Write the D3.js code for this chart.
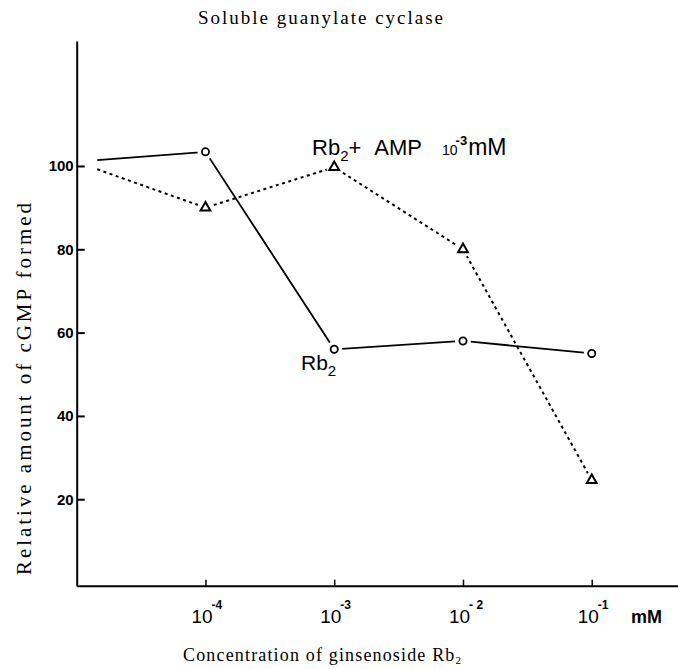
<!DOCTYPE html>
<html><head><meta charset="utf-8">
<script src="https://cdn.jsdelivr.net/npm/d3@7"></script>
<style>body{margin:0;background:#fff}</style>
</head><body>
<svg id="c" width="678" height="669"></svg>
<script>
// ---- data ----
const concLabels = ["control", "1e-4", "1e-3", "1e-2", "1e-1"];
const logConc = [-4.84, -4, -3, -2, -1];          // control plotted left of first dose
const rb2 = [101.4, 103.4, 56, 58, 55];
const rb2Amp = [99.2, 90, 99.7, 80, 24.6];
const yTicks = [20, 40, 60, 80, 100];
const xTickExp = [-4, -3, -2, -1];
const xTickLabels = ["-4", "-3", "- 2", "-1"];

const svg = d3.select("#c");
const x = d3.scaleLinear().domain([-5, -0.33]).range([76.7, 678]);
const y = d3.scaleLinear().domain([-0.75, 130]).range([585.7, 41]);

const serif = "'Liberation Serif','Times New Roman',serif";
const sans = "'Liberation Sans',Arial,sans-serif";
const narrow = "'Liberation Sans Narrow','Arial Narrow','Liberation Sans',sans-serif";

// title
svg.append("text").attr("x", 198).attr("y", 24)
  .attr("font-family", serif).attr("font-size", 19)
  .attr("textLength", 245).attr("lengthAdjust", "spacing")
  .text("Soluble guanylate cyclase");

// y axis
const gy = svg.append("g").attr("transform", `translate(${x(-5)},0)`)
  .call(d3.axisLeft(y).tickValues(yTicks).tickSize(-8).tickSizeOuter(0).tickPadding(3));
gy.select(".domain").attr("stroke-width", 2);
gy.selectAll(".tick line").attr("stroke-width", 2);
gy.selectAll(".tick text").attr("font-family", narrow).attr("font-weight", "bold")
  .attr("font-size", 15).attr("fill", "#000");

// x axis
const gx = svg.append("g").attr("transform", `translate(0,${y(-0.75)})`)
  .call(d3.axisBottom(x).tickValues(xTickExp).tickSize(-6).tickSizeOuter(0).tickFormat(""));
gx.select(".domain").attr("stroke-width", 2);
gx.selectAll(".tick line").attr("stroke-width", 1.5);

// x tick labels 10^n
xTickExp.forEach((e, i) => {
  const t = svg.append("text").attr("x", x(e) - 14).attr("y", 623)
    .attr("font-family", sans).attr("font-size", 19).attr("fill", "#000");
  t.append("tspan").text("10");
  t.append("tspan").attr("dx", -1).attr("dy", -14).attr("font-size", 12)
    .attr("font-weight", "bold").text(xTickLabels[i]);
});
svg.append("text").attr("x", 631).attr("y", 623).attr("font-family", sans)
  .attr("font-size", 18).attr("font-weight", "bold").text("mM");

// axis titles
const xt = svg.append("text").attr("x", 183).attr("y", 661)
  .attr("font-family", serif).attr("font-size", 18)
  .attr("textLength", 278).attr("lengthAdjust", "spacing");
xt.append("tspan").text("Concentration of ginsenoside Rb");
xt.append("tspan").attr("font-size", 11).attr("dy", 3).text("2");

svg.append("text").attr("transform", "translate(31,575) rotate(-90)")
  .attr("font-family", serif).attr("font-size", 21)
  .attr("textLength", 372).attr("lengthAdjust", "spacing")
  .text("Relative amount of cGMP formed");

// lines
const pts = arr => arr.map((v, i) => [x(logConc[i]), y(v)]);
const line = d3.line();
svg.append("path").attr("d", line(pts(rb2))).attr("fill", "none")
  .attr("stroke", "#000").attr("stroke-width", 1.8);
svg.append("path").attr("d", line(pts(rb2Amp))).attr("fill", "none")
  .attr("stroke", "#000").attr("stroke-width", 2).attr("stroke-dasharray", "3,3.5");

// markers (skip control point)
const idx = d3.range(1, concLabels.length);
svg.selectAll(".halo1").data(idx).join("circle")
  .attr("cx", i => x(logConc[i])).attr("cy", i => y(rb2[i])).attr("r", 8).attr("fill", "#fff");
svg.selectAll(".halo2").data(idx).join("circle")
  .attr("cx", i => x(logConc[i])).attr("cy", i => y(rb2Amp[i])).attr("r", 8).attr("fill", "#fff");
svg.selectAll(".c").data(idx).join("circle")
  .attr("cx", i => x(logConc[i])).attr("cy", i => y(rb2[i])).attr("r", 3.6)
  .attr("fill", "#fff").attr("stroke", "#000").attr("stroke-width", 1.8);
const tri = d3.symbol().type(d3.symbolTriangle).size(42);
svg.selectAll(".t").data(idx).join("path")
  .attr("transform", i => `translate(${x(logConc[i])},${y(rb2Amp[i])})`)
  .attr("d", tri).attr("fill", "#fff").attr("stroke", "#000").attr("stroke-width", 2);

// series labels
const l1 = svg.append("text").attr("x", 312).attr("y", 155).attr("font-family", sans)
  .attr("font-size", 22).attr("fill", "#000");
l1.append("tspan").text("Rb");
l1.append("tspan").attr("font-size", 15).attr("dy", 6).text("2");
l1.append("tspan").attr("dy", -6).text("+");
l1.append("tspan").attr("dx", 13).text("AMP");
l1.append("tspan").attr("dx", 20).attr("font-size", 14).text("10");
l1.append("tspan").attr("dx", -2).attr("dy", -10).attr("font-size", 13).attr("font-weight", "bold").text("-3");
l1.append("tspan").attr("dx", 1).attr("dy", 10).attr("font-size", 23).text("mM");

const l2 = svg.append("text").attr("x", 301).attr("y", 370).attr("font-family", sans)
  .attr("font-size", 21).attr("fill", "#000");
l2.append("tspan").text("Rb");
l2.append("tspan").attr("font-size", 15).attr("dy", 6).text("2");
</script>
</body></html>
